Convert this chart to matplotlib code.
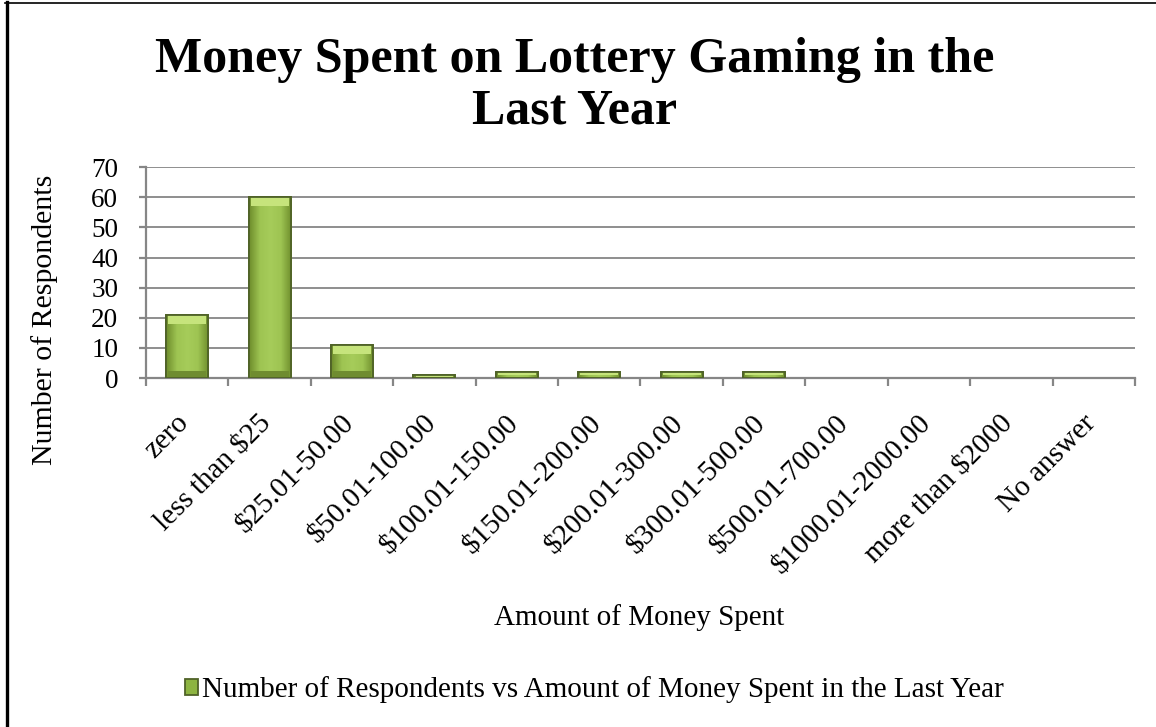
import matplotlib
matplotlib.use("Agg")
import matplotlib.pyplot as plt
import matplotlib.transforms as mtransforms
from matplotlib.colors import LinearSegmentedColormap
from matplotlib.lines import Line2D
import numpy as np

plt.rcParams['font.family'] = ['Liberation Serif', 'DejaVu Serif']

categories = ['zero', 'less than $25', '$25.01-50.00', '$50.01-100.00',
              '$100.01-150.00', '$150.01-200.00', '$200.01-300.00',
              '$300.01-500.00', '$500.01-700.00', '$1000.01-2000.00',
              'more than $2000', 'No answer']
respondents = [21, 60, 11, 1, 2, 2, 2, 2, 0, 0, 0, 0]
yticks = [0, 10, 20, 30, 40, 50, 60, 70]

title = 'Money Spent on Lottery Gaming in the\nLast Year'
series_name = 'Number of Respondents vs Amount of Money Spent in the Last Year'

grey = '#868686'
bar_face = '#8DB441'
bar_edge = '#4F6228'
bar_light = '#C6E47C'
shade = LinearSegmentedColormap.from_list(
    'bar_shade', ['#6E8D2C', '#9EC452', '#A6CC5A', '#9EC452', '#6E8D2C'])

fig = plt.figure(figsize=(11.56, 7.27), dpi=100)
ax = fig.add_axes([0.1263, 0.480, 0.8555, 0.290])

x = np.arange(len(categories))
width = 0.51
bars = ax.bar(x, respondents, width=width, color=bar_face, edgecolor=bar_edge,
              linewidth=1.3, zorder=3, label=series_name)

grad = np.linspace(0, 1, 64).reshape(1, -1)
for rect, xi, v in zip(bars, x, respondents):
    if v <= 0:
        rect.set_linewidth(0)
        continue
    # horizontal shading inside the bar
    im = ax.imshow(grad, cmap=shade, aspect='auto', zorder=3.5,
                   extent=(xi - width / 2, xi + width / 2, 0, v))
    im.set_clip_path(rect)
    # lighter bevel strip along the top
    cap = min(3.0, v * 0.55)
    ax.bar(xi, cap, bottom=v - cap, width=width * 0.9, color=bar_light,
           linewidth=0, zorder=4)
    # darker band at the base
    base = min(2.2, v * 0.2)
    ax.bar(xi, base, bottom=0, width=width * 0.9, color='#6F8C30',
           linewidth=0, zorder=4)
    ax.bar(xi, v, width=width, color='none', edgecolor=bar_edge,
           linewidth=1.3, zorder=5)

ax.set_xlim(-0.5, len(categories) - 0.5)
ax.set_ylim(0, 70)
ax.set_yticks(yticks)
ax.yaxis.grid(True, color=grey, linewidth=1.3, zorder=0)
ax.set_axisbelow(True)

for s in ['top', 'right']:
    ax.spines[s].set_visible(False)
for s in ['left', 'bottom']:
    ax.spines[s].set_color(grey)
    ax.spines[s].set_linewidth(1.6)

ax.tick_params(axis='y', direction='out', length=5, width=1.6, color=grey,
               labelsize=19.5, pad=15)

# tick marks on category boundaries, labels at category centres
ax.set_xticks(x)
ax.set_xticks(np.arange(-0.5, len(categories)), minor=True)
ax.tick_params(axis='x', which='major', length=0, pad=23)
ax.tick_params(axis='x', which='minor', direction='out', length=6,
               width=1.6, color=grey)
ax.set_xticklabels(categories, rotation=45, ha='right', fontsize=21)
shift = mtransforms.ScaledTranslation(0.07, 0, fig.dpi_scale_trans)
for lab in ax.get_xticklabels():
    lab.set_transform(lab.get_transform() + shift)

ax.set_ylabel('Number of Respondents', fontsize=21.5)
ax.yaxis.set_label_coords(-0.089, 0.275)
fig.text(0.553, 0.151, 'Amount of Money Spent', fontsize=21,
         ha='center', va='center')

fig.text(0.497, 0.882, title, fontsize=36, fontweight='bold',
         ha='center', va='center', linespacing=1.14)

fig.legend(handles=[bars], labels=[series_name], loc='center',
           bbox_to_anchor=(0.514, 0.051), frameon=False, fontsize=21,
           handlelength=0.45, handleheight=0.45, handletextpad=0.15)

# outer frame: heavy left rule and thin top rule
fig.add_artist(Line2D([0.0057, 0.0057], [0, 0.997], transform=fig.transFigure,
                      color='black', linewidth=2.4))
fig.add_artist(Line2D([0.004, 1.0], [0.9965, 0.9965], transform=fig.transFigure,
                      color='black', linewidth=1.2))

fig.savefig('out.png', dpi=100)
